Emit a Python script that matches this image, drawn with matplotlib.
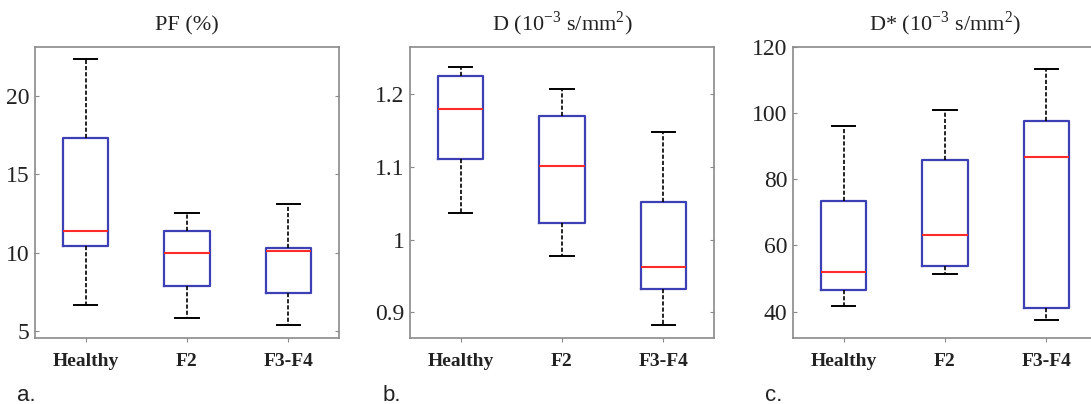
"""
3群（Healthy, F2, F3-F4）の箱ひげ図を3パネルで描画
"""
import matplotlib
matplotlib.use('Agg')
import matplotlib.pyplot as plt

plt.rcParams['font.family'] = ['Liberation Serif', 'DejaVu Serif']
plt.rcParams['mathtext.fontset'] = 'custom'
plt.rcParams['mathtext.rm'] = 'Liberation Serif'

# データ
groups = ['Healthy', 'F2', 'F3-F4']

pf_whislo = [6.66, 5.85, 5.40]
pf_q1 = [10.40, 7.85, 7.43]
pf_med = [11.40, 9.98, 10.08]
pf_q3 = [17.30, 11.36, 10.30]
pf_whishi = [22.32, 12.55, 13.07]

d_whislo = [1.037, 0.978, 0.883]
d_q1 = [1.111, 1.023, 0.932]
d_med = [1.179, 1.101, 0.962]
d_q3 = [1.224, 1.169, 1.052]
d_whishi = [1.237, 1.206, 1.147]

ds_whislo = [41.6, 51.4, 37.3]
ds_q1 = [46.6, 53.8, 41.2]
ds_med = [52.1, 63.2, 86.7]
ds_q3 = [73.4, 85.8, 97.7]
ds_whishi = [96.0, 100.8, 113.4]

titles = ['PF (%)', 'D (10$^{-3}$ s/mm$^{2}$)', 'D* (10$^{-3}$ s/mm$^{2}$)']
panel_labels = ['a.', 'b.', 'c.']
yticks = [[5, 10, 15, 20], [0.9, 1.0, 1.1, 1.2], [40, 60, 80, 100, 120]]
yticklabels = [['5', '10', '15', '20'], ['0.9', '1', '1.1', '1.2'],
               ['40', '60', '80', '100', '120']]
ylims = [(4.55, 23.1), (0.865, 1.264), (32, 120)]

data = [
    (pf_whislo, pf_q1, pf_med, pf_q3, pf_whishi),
    (d_whislo, d_q1, d_med, d_q3, d_whishi),
    (ds_whislo, ds_q1, ds_med, ds_q3, ds_whishi),
]

W, H = 1091, 404
fig = plt.figure(figsize=(W / 100, H / 100), dpi=100)

# 各パネルの左端（ピクセル）
lefts = [35, 410, 793]
label_x = [17, 383, 765]
ax_w, ax_top, ax_bot = 304, 47, 338

box_color = '#3c40b4'
spine_color = '#8a8a8a'
serif = ['Liberation Serif', 'DejaVu Serif']

for i in range(3):
    ax = fig.add_axes([lefts[i] / W, (H - ax_bot) / H, ax_w / W, (ax_bot - ax_top) / H])
    lo, q1, med, q3, hi = data[i]
    stats = []
    for k, g in enumerate(groups):
        stats.append({'label': g, 'whislo': lo[k], 'q1': q1[k], 'med': med[k],
                      'q3': q3[k], 'whishi': hi[k]})
    ax.bxp(stats, widths=0.45, capwidths=0.23, showfliers=False,
           boxprops=dict(color=box_color, linewidth=1.6),
           medianprops=dict(color='#ff2a2a', linewidth=1.5),
           whiskerprops=dict(color='black', linewidth=1.2, linestyle=(0, (2.5, 1.2))),
           capprops=dict(color='black', linewidth=1.4))
    ax.set_xlim(0.5, 3.5)
    ax.set_ylim(*ylims[i])
    ax.set_yticks(yticks[i])
    ax.set_yticklabels(yticklabels[i], fontsize=17, family=serif, color='#222222')
    ax.set_xticklabels(groups, fontsize=14, family=serif, fontweight='bold',
                       color='#222222')
    for s in ax.spines.values():
        s.set_color(spine_color)
        s.set_linewidth(1.2)
    ax.tick_params(axis='y', direction='in', length=3, width=0.8, color=spine_color,
                   pad=4, right=True)
    ax.tick_params(axis='x', direction='out', length=3, width=0.8, color=spine_color,
                   pad=8)
    ax.set_title(titles[i], fontsize=16, pad=12, color='#222222')
    fig.text(label_x[i] / W, 3 / H, panel_labels[i], fontsize=16,
             family=['Liberation Sans Narrow', 'Liberation Sans', 'DejaVu Sans'],
             color='#222222')

fig.savefig('out.png', dpi=100)
